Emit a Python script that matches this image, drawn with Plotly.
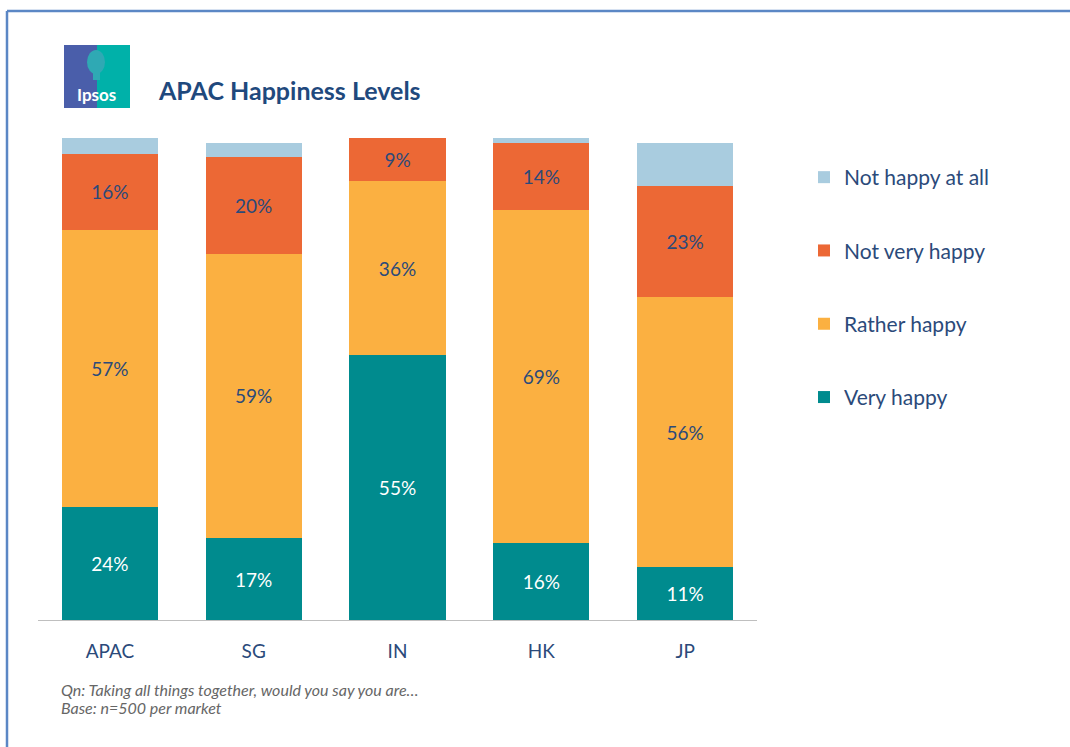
import plotly.graph_objects as go

markets = ["APAC", "SG", "IN", "HK", "JP"]
very_happy = [23.5, 17, 55, 16, 11]
rather_happy = [57.4, 59, 36, 69, 56]
not_very_happy = [15.8, 20, 9, 14, 23]
not_happy_at_all = [3.3, 3, 0, 1, 9]
very_labels = ["24%", "17%", "55%", "16%", "11%"]
rather_labels = ["57%", "59%", "36%", "69%", "56%"]
notvery_labels = ["16%", "20%", "9%", "14%", "23%"]

series = [
    ("Very happy", very_happy, very_labels, "#008B8E", "white", 4),
    ("Rather happy", rather_happy, rather_labels, "#FBB041", "#2B4A7A", 3),
    ("Not very happy", not_very_happy, notvery_labels, "#EC6835", "#2B4A7A", 2),
    ("Not happy at all", not_happy_at_all, None, "#A9CCDF", "#2B4A7A", 1),
]

W, H = 1070, 747
L, R, T, B = 38, 313, 138, 127
FONT = "Lato, Open Sans, sans-serif"

fig = go.Figure()
for name, vals, labels, color, tcolor, rank in series:
    fig.add_trace(go.Bar(
        x=markets, y=vals, name=name,
        marker=dict(color=color, line=dict(width=0)),
        text=labels, textposition="inside" if labels else "none",
        insidetextanchor="middle",
        textfont=dict(family=FONT, size=19, color=tcolor),
        legendgroup=name, legendrank=rank, hoverinfo="skip",
    ))

fig.update_layout(
    width=W, height=H,
    margin=dict(l=L, r=R, t=T, b=B),
    barmode="stack", bargap=0.33,
    paper_bgcolor="white", plot_bgcolor="white",
    showlegend=True,
    legend=dict(
        x=(804 - L) / (W - L - R), y=(H - B - 157) / (H - T - B),
        xanchor="left", yanchor="top",
        traceorder="grouped", tracegroupgap=43,
        font=dict(family=FONT, size=21, color="#2B4A7A"),
        itemwidth=30, bgcolor="rgba(0,0,0,0)",
    ),
    xaxis=dict(
        showline=True, linecolor="#BFBFBF", linewidth=1,
        ticks="", showgrid=False, ticklabelstandoff=14,
        tickfont=dict(family=FONT, size=19, color="#2B4A7A"),
    ),
    yaxis=dict(range=[0, 100], visible=False, showgrid=False),
    uniformtext=dict(mode=False),
)

def px_x(x):
    return (x - L) / (W - L - R)

def px_y(y):
    return (H - B - y) / (H - T - B)

# frame lines
fig.add_shape(type="line", xref="paper", yref="paper",
              x0=px_x(7), x1=px_x(W), y0=px_y(11), y1=px_y(11),
              line=dict(color="#5B87C5", width=2.5))
fig.add_shape(type="line", xref="paper", yref="paper",
              x0=px_x(7), x1=px_x(7), y0=px_y(11), y1=px_y(H),
              line=dict(color="#5B87C5", width=2.5))

# logo
fig.add_shape(type="rect", xref="paper", yref="paper",
              x0=px_x(64), x1=px_x(97), y0=px_y(108), y1=px_y(45),
              fillcolor="#4A5EAA", line=dict(width=0), layer="below")
fig.add_shape(type="rect", xref="paper", yref="paper",
              x0=px_x(97), x1=px_x(130), y0=px_y(108), y1=px_y(45),
              fillcolor="#00B1A9", line=dict(width=0), layer="below")
fig.add_shape(type="circle", xref="paper", yref="paper",
              x0=px_x(87), x1=px_x(105), y0=px_y(74), y1=px_y(50),
              fillcolor="#2FA9B4", line=dict(width=0), layer="below")
fig.add_shape(type="rect", xref="paper", yref="paper",
              x0=px_x(93), x1=px_x(100), y0=px_y(80), y1=px_y(72),
              fillcolor="#2FA9B4", line=dict(width=0), layer="below")
fig.add_annotation(xref="paper", yref="paper", x=px_x(96), y=px_y(94),
                   xanchor="center", yanchor="middle",
                   text="<b>Ipsos</b>", showarrow=False,
                   font=dict(family=FONT, size=17, color="white"))

# title
fig.add_annotation(xref="paper", yref="paper", x=px_x(156), y=px_y(90),
                   xanchor="left", yanchor="middle",
                   text="<b>APAC Happiness Levels</b>", showarrow=False,
                   font=dict(family=FONT, size=25, color="#1F497D"))

# footnote
fig.add_annotation(xref="paper", yref="paper", x=px_x(59), y=px_y(689),
                   xanchor="left", yanchor="middle",
                   text="<i>Qn: Taking all things together, would you say you are…</i>",
                   showarrow=False,
                   font=dict(family=FONT, size=16, color="#666666"))
fig.add_annotation(xref="paper", yref="paper", x=px_x(59), y=px_y(707),
                   xanchor="left", yanchor="middle",
                   text="<i>Base: n=500 per market</i>",
                   showarrow=False,
                   font=dict(family=FONT, size=16, color="#666666"))

fig.write_html("out.html")
